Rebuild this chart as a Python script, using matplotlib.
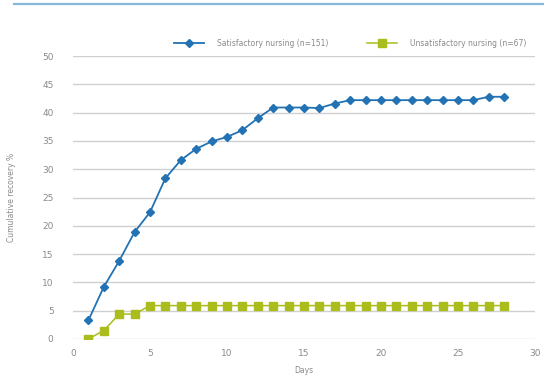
import matplotlib
matplotlib.use("Agg")
import matplotlib.pyplot as plt
from matplotlib.lines import Line2D

days = list(range(1, 29))
satisfactory = [3.3, 9.2, 13.8, 18.9, 22.4, 28.4, 31.6, 33.6, 34.9, 35.7, 36.9, 39.0, 40.9,
                40.9, 40.9, 40.8, 41.6, 42.2, 42.2, 42.2, 42.2, 42.2, 42.2, 42.2, 42.2, 42.2,
                42.8, 42.8]
unsatisfactory = [0.0, 1.5, 4.4, 4.4] + [5.9] * 24
series_labels = ["Satisfactory nursing (n=151)", "Unsatisfactory nursing (n=67)"]
x_ticks = [0, 5, 10, 15, 20, 25, 30]
y_ticks = [0, 5, 10, 15, 20, 25, 30, 35, 40, 45, 50]

blue = "#2272b4"
green = "#aabd1c"
grey = "#8a8a8a"

fig = plt.figure(figsize=(5.44, 3.76), dpi=100)
fig.patch.set_facecolor("white")
# decorative top rule
fig.add_artist(Line2D([14/544, 1.0], [1 - 3.5/376, 1 - 3.5/376], transform=fig.transFigure,
                      color="#86b8d8", lw=1.6))

ax = fig.add_axes([73/544, 1 - 339/376, (535 - 73)/544, (339 - 56)/376])
ax.plot(days, satisfactory, color=blue, lw=1.3, marker="D", ms=4.4, mfc=blue, mec=blue,
        label=series_labels[0], zorder=3)
ax.plot(days, unsatisfactory, color=green, lw=1.1, marker="s", ms=5.6, mfc=green, mec=green,
        label=series_labels[1], zorder=3)

ax.set_xlim(0, 30)
ax.set_ylim(0, 50)
ax.set_xticks(x_ticks)
ax.set_yticks(y_ticks)
ax.yaxis.grid(True, color="#d0d0d0", lw=1.0)
ax.set_axisbelow(True)
for s in ax.spines.values():
    s.set_visible(False)
ax.tick_params(length=0, labelsize=6.5, labelcolor=grey, pad=7)
ax.tick_params(axis="y", pad=14)
ax.set_xlabel("Days", fontsize=5.5, color=grey, labelpad=6)
ax.set_ylabel("Cumulative recovery %", fontsize=5.5, color=grey, labelpad=19)

leg = ax.legend(loc="lower center", bbox_to_anchor=(0.6, 1.0), ncol=2, frameon=False,
                fontsize=5.5, handlelength=4.0, columnspacing=5.0, handletextpad=1.7,
                borderaxespad=0.7)
for t in leg.get_texts():
    t.set_color(grey)

fig.savefig("out.png", dpi=100)
